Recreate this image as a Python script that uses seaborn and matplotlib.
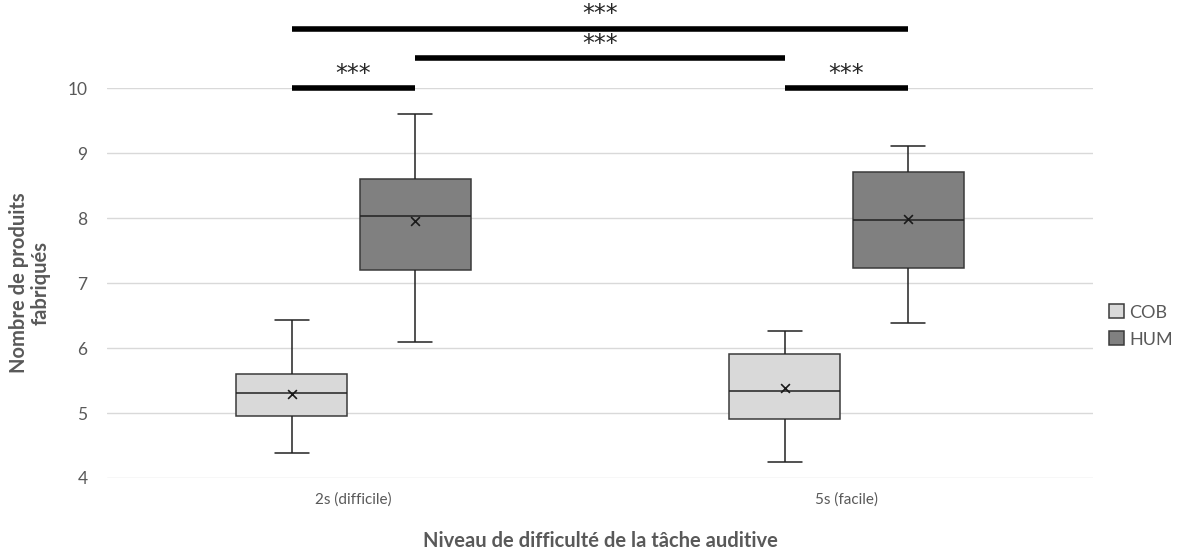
import numpy as np
import pandas as pd
import matplotlib
matplotlib.use('Agg')
import matplotlib.pyplot as plt
import seaborn as sns

# categories and groups
niveaux = ['2s (difficile)', '5s (facile)']
groupes = ['COB', 'HUM']

# five-number summaries: [min, q1, median, q3, max]
cob_2s = [4.38, 4.95, 5.31, 5.60, 6.43]
hum_2s = [6.09, 7.20, 8.04, 8.60, 9.60]
cob_5s = [4.25, 4.91, 5.34, 5.91, 6.26]
hum_5s = [6.38, 7.23, 7.97, 8.71, 9.11]

# means (the x markers)
moyennes_cob = [5.30, 5.38]
moyennes_hum = [7.96, 7.98]

# significance bars: (from box, to box, height), boxes as (niveau, groupe)
signif = [
    (('2s (difficile)', 'COB'), ('2s (difficile)', 'HUM'), 10.0),
    (('5s (facile)', 'COB'), ('5s (facile)', 'HUM'), 10.0),
    (('2s (difficile)', 'HUM'), ('5s (facile)', 'COB'), 10.46),
    (('2s (difficile)', 'COB'), ('5s (facile)', 'HUM'), 10.91),
]

# build a long table from the summaries
rows = []
for niveau, cob, hum in zip(niveaux, [cob_2s, cob_5s], [hum_2s, hum_5s]):
    for v in cob:
        rows.append({'niveau': niveau, 'groupe': 'COB', 'valeur': v})
    for v in hum:
        rows.append({'niveau': niveau, 'groupe': 'HUM', 'valeur': v})
df = pd.DataFrame(rows)

sns.set_theme(style='white')
plt.rcParams['font.family'] = ['Lato', 'DejaVu Sans']

text_grey = '#595959'
palette = {'COB': '#d9d9d9', 'HUM': '#808080'}
box_width = 0.5

fig = plt.figure(figsize=(11.82, 5.51), dpi=100)
ax = fig.add_axes([0.0905, 0.1325, 0.8342, 0.7075])

sns.boxplot(data=df, x='niveau', y='valeur', hue='groupe', order=niveaux,
            hue_order=groupes, palette=palette, width=box_width, gap=0.1,
            whis=(0, 100), linewidth=1.1, linecolor='#3a3a3a', ax=ax,
            legend=True)

# whiskers and caps in black, caps narrower (Excel style)
for line in ax.lines:
    line.set_color('#222222')
    xd = np.asarray(line.get_xdata(), dtype=float)
    yd = np.asarray(line.get_ydata(), dtype=float)
    if len(xd) == 2 and yd[0] == yd[1]:
        w = abs(xd[1] - xd[0])
        if w < 0.17:  # caps (medians span the full box)
            c = xd.mean()
            line.set_xdata([c - 0.035, c + 0.035])

# box centre positions
def box_x(niveau, groupe):
    i = niveaux.index(niveau)
    j = groupes.index(groupe)
    step = box_width / len(groupes)
    return i - box_width / 2 + step / 2 + j * step

# means
for groupe, moy in zip(groupes, [moyennes_cob, moyennes_hum]):
    xs = [box_x(n, groupe) for n in niveaux]
    ax.scatter(xs, moy, marker='x', color='#1a1a1a', s=40, linewidths=1.2, zorder=5)

# significance bars
for a, b, h in signif:
    x0, x1 = box_x(*a), box_x(*b)
    ax.plot([x0, x1], [h, h], color='black', lw=4, solid_capstyle='butt',
            clip_on=False, zorder=6)
    ax.text((x0 + x1) / 2, h + 0.04, '***', ha='center', va='bottom',
            fontsize=17, color='#262626', clip_on=False, family='DejaVu Sans')

ax.set_ylim(4, 10)
ax.set_xlim(-0.5, 1.5)
ax.set_yticks(range(4, 11))
ax.yaxis.grid(True, color='#d9d9d9', lw=1)
ax.set_axisbelow(True)
for s in ax.spines.values():
    s.set_visible(False)
ax.tick_params(axis='y', labelsize=12.5, colors=text_grey, length=0, pad=14)
ax.tick_params(axis='x', labelsize=11, colors=text_grey, length=0, pad=10)

ax.set_ylabel('Nombre de produits\nfabriqués', fontsize=14.5, fontweight='bold',
              color=text_grey, labelpad=12, linespacing=1.1)
ax.set_xlabel('Niveau de difficulté de la tâche auditive', fontsize=14.5,
              fontweight='bold', color=text_grey, labelpad=18)

leg = ax.legend(loc='center left', bbox_to_anchor=(1.0, 0.39), frameon=False,
                fontsize=13, handlelength=0.8, handleheight=0.8,
                handletextpad=0.3, labelspacing=0.6)
for t in leg.get_texts():
    t.set_color(text_grey)

fig.savefig('out.png', dpi=100)
